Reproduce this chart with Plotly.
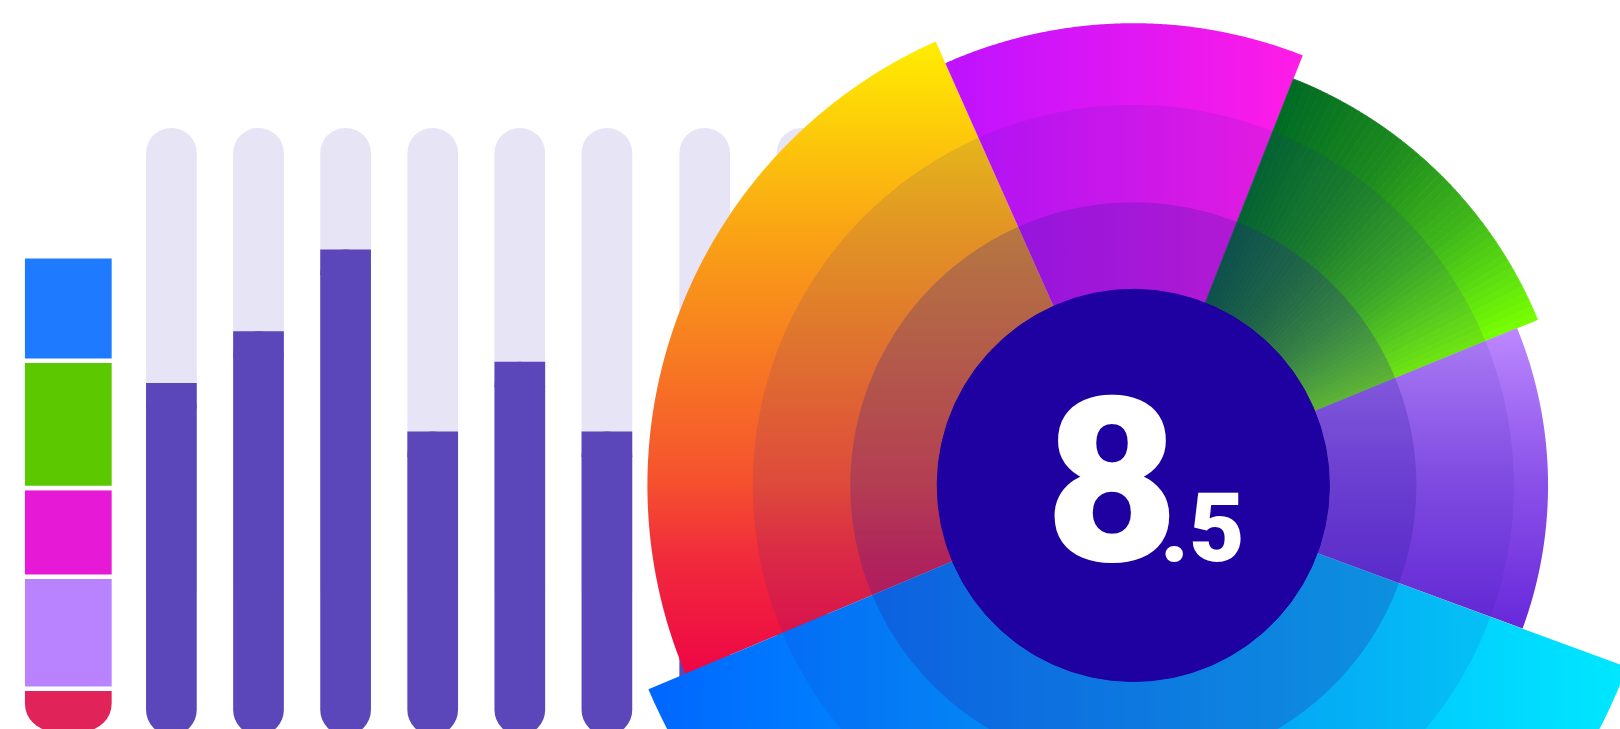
import numpy as np
import plotly.graph_objects as go

# ---------------- data ----------------
# left stacked bar, bottom -> top, share of total (%)
stack_labels = ["Red", "Lavender", "Magenta", "Green", "Blue"]
stack_values = [9.3, 23.5, 18.6, 26.7, 21.9]
stack_colors = ["#E0245A", "#B983FF", "#E61AD6", "#5CC800", "#1E7BFF"]

# progress bars (% of max)
bar_labels = ["B1", "B2", "B3", "B4", "B5", "B6", "B7", "B8"]
bar_values = [58, 66.5, 80, 50, 61.5, 50, 60, 55]
bar_max = 100

# radial fan: angular span (deg, clockwise from start angle) and radius per sector
fan_labels = ["Orange", "Magenta", "Green", "Purple", "Blue"]
fan_spans = [88.8, 45.5, 46.2, 42.5, 137.0]
fan_radius = [92.2, 87.7, 82.9, 78.7, 99.8]
ring_radius = [72.2, 53.7]
core_radius = 37.2
score_main = "8"
score_decimal = ".5"

# ---------------- styles / layout constants ----------------
W, H = 1620, 729
FAN_START = 202.8
PX = 5.27            # pixels per fan unit
CX, CY = 1133.3, 485.4

fan_styles = {
    "Orange": ("vertical", [[0, "#EE0645"], [0.18, "#F12A3C"], [0.3, "#F5502F"],
                            [0.5, "#F77A22"], [0.7, "#FAA415"], [1, "#FFEE00"]]),
    "Magenta": ("horizontal", [[0, "#BE12FF"], [0.5, "#DE17F3"], [1, "#FF1CE6"]]),
    "Green": ("angular", [[0, "#006B24"], [0.35, "#1C8A1E"], [0.65, "#3FB71A"],
                          [0.85, "#5EE010"], [1, "#78FF00"]]),
    "Purple": ("vertical", [[0, "#6828DA"], [0.5, "#8B52E9"], [1, "#BC88FF"]]),
    "Blue": ("horizontal", [[0, "#0066FF"], [1, "#00E8FF"]]),
}


def hex2rgb(h):
    h = h.lstrip("#")
    return np.array([int(h[i:i + 2], 16) for i in (0, 2, 4)], float)


def cs_color(cs, t):
    pos = [p for p, _ in cs]
    cols = [hex2rgb(c) for _, c in cs]
    c = cols[-1]
    for k in range(len(pos) - 1):
        if t <= pos[k + 1]:
            f = (t - pos[k]) / (pos[k + 1] - pos[k])
            c = cols[k] * (1 - f) + cols[k + 1] * f
            break
    return "rgb(%d,%d,%d)" % tuple(np.round(c))


def sector(r, a0, a1, n=120):
    t = np.radians(np.linspace(a0, a1, n))
    x = np.concatenate([[0.0], r * np.cos(t), [0.0]])
    y = np.concatenate([[0.0], r * np.sin(t), [0.0]])
    return x, y


fig = go.Figure()
common = dict(showlegend=False, hoverinfo="skip")
noline = dict(width=0)

# ---- stacked bar (left) ----
tops = np.cumsum(stack_values)
RED_HIDDEN_EXT = 10.0   # rounded red piece tucked under the next segment
for i, (lab, v, c) in enumerate(zip(stack_labels, stack_values, stack_colors)):
    mk = dict(color=c, line=dict(color="white", width=4.5))
    top = tops[i]
    if i == 0:
        mk["cornerradius"] = 30
        top = tops[i] + RED_HIDDEN_EXT
    fig.add_trace(go.Bar(x=["Total"], y=[-(top - (tops[i] - v))], base=[top],
                         width=0.668, name=lab, marker=mk, xaxis="x", yaxis="y",
                         **common))

# ---- progress bars (x2: bars 1-6, x3: bars 7-8) ----
y2_bot, y2_top = 735.0, 128.0
y2_scale = (y2_bot - y2_top) / bar_max
CAP = 25.5 / y2_scale          # flat cap height = corner radius
groups = [("x2", slice(0, 6), 0.582), ("x3", slice(6, 8), 0.521)]
for xa, sl, bw in groups:
    labs = bar_labels[sl]
    vals = bar_values[sl]
    n = len(labs)
    # track (pill)
    fig.add_trace(go.Bar(x=labs, y=[bar_max - 20] * n, base=[20] * n, width=bw,
                         marker=dict(color="#E7E4F5", cornerradius=25, line=noline),
                         xaxis=xa, yaxis="y2", **common))
    # value fill: rounded at the bottom
    fig.add_trace(go.Bar(x=labs, y=[-v for v in vals], base=vals, width=bw,
                         marker=dict(color="#5C47BA", cornerradius=25, line=noline),
                         xaxis=xa, yaxis="y2", **common))
    # flat cap on the fill top
    fig.add_trace(go.Bar(x=labs, y=[-CAP] * n, base=vals, width=bw,
                         marker=dict(color="#5C47BA", line=noline),
                         xaxis=xa, yaxis="y2", **common))

# ---- radial fan (x4/y4, drawn last = on top) ----
angles = FAN_START - np.concatenate([[0.0], np.cumsum(fan_spans)])
for i, lab in enumerate(fan_labels):
    a0, a1 = angles[i], angles[i + 1]
    r = fan_radius[i]
    mode, cs = fan_styles[lab]
    if mode == "angular":
        n = 48
        edges = np.linspace(a0, a1, n + 1)
        for k in range(n):
            x, y = sector(r, edges[k], edges[k + 1], 6)
            col = cs_color(cs, (k + 0.5) / n)
            fig.add_trace(go.Scatter(x=x, y=y, fill="toself", fillcolor=col,
                                     mode="lines", line=dict(color=col, width=0.8),
                                     xaxis="x4", yaxis="y4", **common))
    else:
        x, y = sector(r, a0, a1, 160)
        fig.add_trace(go.Scatter(x=x, y=y, fill="toself", mode="none",
                                 fillgradient=dict(type=mode, colorscale=cs),
                                 xaxis="x4", yaxis="y4", **common))

tt = np.radians(np.linspace(0, 360, 361))
for rr, a in zip(ring_radius, [0.11, 0.24]):
    fig.add_trace(go.Scatter(x=rr * np.cos(tt), y=rr * np.sin(tt), fill="toself",
                             fillcolor="rgba(40,25,160,%.2f)" % a, mode="none",
                             xaxis="x4", yaxis="y4", **common))
fig.add_trace(go.Scatter(x=core_radius * np.cos(tt), y=core_radius * np.sin(tt),
                         fill="toself", fillcolor="#1F00A0", mode="lines",
                         line=dict(color="#1F00A0", width=1),
                         xaxis="x4", yaxis="y4", **common))

fig.add_annotation(x=(1112.2 - CX) / PX, y=(CY - 481.5) / PX, xref="x4", yref="y4",
                   text=score_main, showarrow=False, xanchor="center", yanchor="middle",
                   font=dict(family="Roboto", size=231, color="white", weight=900))
fig.add_annotation(x=(1158 - CX) / PX, y=(CY - 527.8) / PX, xref="x4", yref="y4",
                   text=score_decimal, showarrow=False, xanchor="left", yanchor="middle",
                   font=dict(family="Roboto", size=96, color="white", weight=900))

# ---- axes ----
hid = dict(visible=False, showgrid=False, zeroline=False, fixedrange=True)
leg_w = 136.6
y1_top, y1_bot = 256.2, 733.2
y1_scale = (y1_bot - y1_top) / 100.0
x2_c0, x2_step = 171.4, 87.1
x3_c0, x3_step = 704.7, 97.3

fig.update_layout(
    width=W, height=H, margin=dict(l=0, r=0, t=0, b=0),
    paper_bgcolor="white", plot_bgcolor="rgba(0,0,0,0)",
    barmode="overlay", hovermode=False, showlegend=False,
    xaxis=dict(domain=[0, leg_w / W], range=[-0.5, 0.5], anchor="y", **hid),
    yaxis=dict(domain=[0, 1], range=[(y1_bot - H) / y1_scale, y1_bot / y1_scale],
               anchor="x", **hid),
    xaxis2=dict(domain=[(x2_c0 - x2_step / 2) / W, (x2_c0 + 5.5 * x2_step) / W],
                range=[-0.5, 5.5], anchor="y2", **hid),
    yaxis2=dict(domain=[0, 1], range=[(y2_bot - H) / y2_scale, y2_bot / y2_scale],
                anchor="x2", **hid),
    xaxis3=dict(domain=[(x3_c0 - x3_step / 2) / W, (x3_c0 + 1.5 * x3_step) / W],
                range=[-0.5, 1.5], anchor="y2", **hid),
    xaxis4=dict(domain=[0, 1], range=[-CX / PX, (W - CX) / PX], anchor="y4", **hid),
    yaxis4=dict(domain=[0, 1], range=[(CY - H) / PX, CY / PX], anchor="x4", **hid),
)

fig.write_html("out.html", config={"displayModeBar": False},
               post_script="document.body.style.margin='0';document.body.style.overflow='hidden';")
